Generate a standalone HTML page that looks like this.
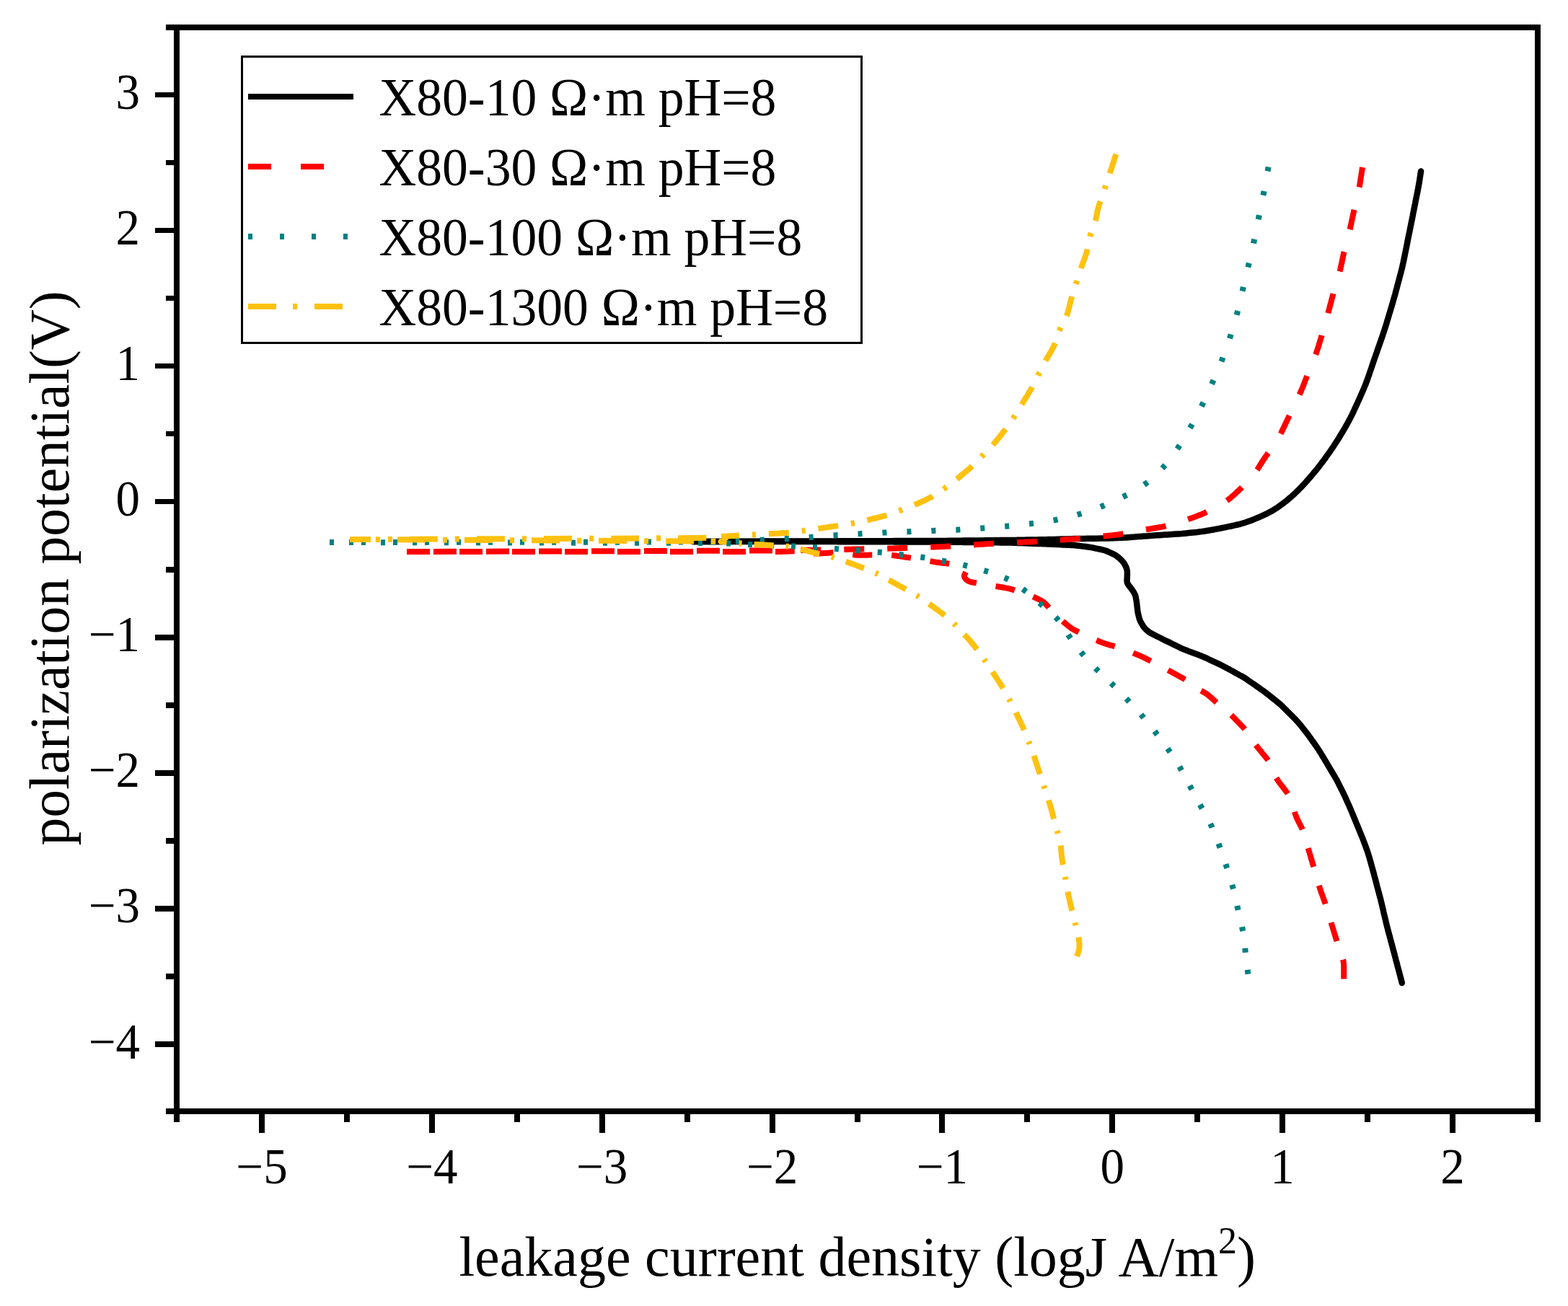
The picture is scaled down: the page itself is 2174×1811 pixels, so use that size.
<!DOCTYPE html>
<html><head><meta charset="utf-8"><title>polarization curves</title>
<style>html,body{margin:0;padding:0;background:#fff;}svg{display:block;}</style></head>
<body>
<svg width="2174" height="1811" viewBox="0 0 2174 1811" font-family="'Liberation Serif','Times New Roman',serif">
<rect x="0" y="0" width="2174" height="1811" fill="#fff"/>
<g id="curves">
<path d="M1943.8,1363.0 L1943.1,1360.1 L1942.3,1357.2 L1941.6,1354.3 L1940.8,1351.4 L1940.1,1348.5 L1939.3,1345.6 L1938.5,1342.7 L1937.7,1339.8 L1937.0,1336.9 L1936.2,1334.0 L1935.4,1331.1 L1934.7,1328.2 L1933.9,1325.3 L1933.2,1322.4 L1932.4,1319.5 L1931.6,1316.6 L1930.8,1313.7 L1930.1,1310.8 L1929.3,1307.9 L1928.5,1305.0 L1927.7,1302.1 L1927.0,1299.2 L1926.2,1296.3 L1925.4,1293.4 L1924.6,1290.5 L1923.9,1287.6 L1923.1,1284.7 L1922.4,1281.8 L1921.7,1278.9 L1921.0,1275.9 L1920.3,1273.0 L1919.6,1270.1 L1918.9,1267.2 L1918.2,1264.2 L1917.6,1261.3 L1916.9,1258.4 L1916.2,1255.5 L1915.5,1252.6 L1914.8,1249.6 L1914.1,1246.7 L1913.3,1243.8 L1912.5,1240.9 L1911.8,1238.0 L1911.0,1235.1 L1910.2,1232.2 L1909.4,1229.3 L1908.7,1226.4 L1907.9,1223.5 L1907.2,1220.6 L1906.4,1217.7 L1905.6,1214.8 L1904.9,1211.9 L1904.1,1209.0 L1903.3,1206.1 L1902.5,1203.2 L1901.7,1200.3 L1900.9,1197.4 L1900.1,1194.6 L1899.3,1191.7 L1898.5,1188.8 L1897.6,1185.9 L1896.7,1183.0 L1895.8,1180.2 L1894.8,1177.4 L1893.7,1174.6 L1892.7,1171.7 L1891.6,1168.9 L1890.6,1166.1 L1889.5,1163.3 L1888.4,1160.5 L1887.3,1157.8 L1886.1,1155.0 L1885.0,1152.2 L1883.9,1149.4 L1882.7,1146.7 L1881.6,1143.9 L1880.4,1141.1 L1879.3,1138.3 L1878.1,1135.6 L1877.0,1132.8 L1875.9,1130.0 L1874.7,1127.2 L1873.6,1124.5 L1872.4,1121.7 L1871.2,1119.0 L1870.0,1116.2 L1868.7,1113.5 L1867.5,1110.7 L1866.3,1108.0 L1865.1,1105.3 L1863.8,1102.5 L1862.5,1099.8 L1861.2,1097.1 L1859.8,1094.5 L1858.5,1091.8 L1857.1,1089.1 L1855.8,1086.4 L1854.4,1083.7 L1853.0,1081.1 L1851.5,1078.5 L1850.0,1075.9 L1848.5,1073.3 L1846.9,1070.8 L1845.4,1068.2 L1843.9,1065.6 L1842.4,1063.0 L1840.8,1060.4 L1839.3,1057.8 L1837.7,1055.3 L1836.2,1052.7 L1834.7,1050.1 L1833.1,1047.6 L1831.6,1045.0 L1830.0,1042.4 L1828.4,1039.9 L1826.7,1037.4 L1825.0,1034.9 L1823.3,1032.5 L1821.6,1030.0 L1819.8,1027.6 L1818.1,1025.1 L1816.4,1022.7 L1814.6,1020.3 L1812.8,1017.9 L1811.0,1015.5 L1809.1,1013.1 L1807.3,1010.7 L1805.4,1008.4 L1803.6,1006.0 L1801.6,1003.7 L1799.7,1001.5 L1797.7,999.2 L1795.6,997.1 L1793.5,994.9 L1791.4,992.8 L1789.3,990.7 L1787.1,988.5 L1785.0,986.4 L1782.9,984.3 L1780.8,982.2 L1778.6,980.1 L1776.5,978.0 L1774.2,976.0 L1771.9,974.1 L1769.6,972.2 L1767.3,970.3 L1764.9,968.5 L1762.6,966.6 L1760.2,964.7 L1757.9,962.8 L1755.5,961.0 L1753.1,959.2 L1750.7,957.4 L1748.2,955.7 L1745.8,954.0 L1743.3,952.3 L1740.9,950.5 L1738.4,948.8 L1736.0,947.1 L1733.5,945.4 L1731.0,943.7 L1728.6,942.0 L1726.1,940.3 L1723.5,938.8 L1720.9,937.3 L1718.2,935.9 L1715.6,934.4 L1713.0,933.0 L1710.4,931.5 L1707.7,930.1 L1705.1,928.6 L1702.5,927.2 L1699.8,925.8 L1697.2,924.4 L1694.5,923.0 L1691.8,921.7 L1689.1,920.4 L1686.4,919.1 L1683.7,917.9 L1680.9,916.6 L1678.2,915.3 L1675.5,914.0 L1672.8,912.7 L1670.1,911.5 L1667.3,910.3 L1664.5,909.2 L1661.7,908.1 L1658.9,907.1 L1656.1,906.0 L1653.3,905.0 L1650.5,903.9 L1647.7,902.9 L1644.9,901.8 L1642.1,900.7 L1639.3,899.6 L1636.6,898.3 L1633.9,897.0 L1631.2,895.7 L1628.5,894.4 L1625.8,893.1 L1623.1,891.7 L1620.4,890.4 L1617.7,889.1 L1615.0,887.8 L1612.3,886.5 L1609.6,885.1 L1607.0,883.8 L1604.3,882.4 L1601.6,881.1 L1598.9,879.7 L1596.3,878.4 L1593.7,876.8 L1591.3,875.0 L1589.1,873.1 L1587.0,870.9 L1585.2,868.6 L1583.6,866.0 L1582.1,863.4 L1580.8,860.8 L1579.8,858.0 L1579.0,855.1 L1578.3,852.2 L1577.6,849.3 L1577.2,846.3 L1576.8,843.3 L1576.5,840.3 L1576.2,837.4 L1575.8,834.4 L1575.3,831.4 L1574.8,828.5 L1574.1,825.6 L1572.9,823.0 L1571.4,820.4 L1569.7,817.9 L1567.9,815.5 L1566.1,813.1 L1564.3,810.8 L1563.0,808.3 L1562.5,805.5 L1562.6,802.6 L1562.8,799.6 L1562.9,796.7 L1562.9,793.7 L1562.6,790.7 L1561.9,787.9 L1560.7,785.2 L1559.3,782.6 L1557.7,780.0 L1555.8,777.8 L1553.7,775.7 L1551.5,773.7 L1549.2,771.7 L1546.8,770.0 L1544.2,768.6 L1541.5,767.3 L1538.8,766.1 L1536.0,764.8 L1533.3,763.7 L1530.4,762.8 L1527.5,762.1 L1524.6,761.5 L1521.6,760.9 L1518.7,760.3 L1515.8,759.7 L1512.8,759.1 L1509.9,758.6 L1506.9,758.2 L1503.9,757.8 L1500.9,757.5 L1498.0,757.1 L1495.0,756.7 L1492.0,756.4 L1489.0,756.1 L1486.0,756.0 L1483.0,755.8 L1480.0,755.7 L1477.0,755.5 L1474.0,755.4 L1471.0,755.2 L1468.0,755.1 L1465.0,754.9 L1462.0,754.8 L1459.0,754.7 L1456.0,754.6 L1453.0,754.4 L1450.1,754.3 L1447.1,754.2 L1444.1,754.1 L1441.1,754.0 L1438.1,753.9 L1435.1,753.8 L1432.1,753.7 L1429.1,753.6 L1426.1,753.5 L1423.1,753.3 L1420.1,753.2 L1417.1,753.1 L1414.1,753.0 L1411.1,752.9 L1408.1,752.8 L1405.1,752.7 L1402.1,752.6 L1399.1,752.5 L1396.1,752.5 L1393.1,752.4 L1390.1,752.4 L1387.1,752.4 L1384.1,752.3 L1381.1,752.3 L1378.1,752.3 L1375.1,752.3 L1372.1,752.2 L1369.1,752.2 L1366.1,752.2 L1363.1,752.1 L1360.1,752.1 L1357.1,752.1 L1354.1,752.0 L1351.1,752.0 L1348.1,752.0 L1345.1,752.0 L1342.1,751.9 L1339.1,751.9 L1336.1,751.9 L1333.1,751.8 L1330.1,751.8 L1327.1,751.8 L1324.1,751.7 L1321.1,751.7 L1318.1,751.7 L1315.1,751.7 L1312.1,751.6 L1309.1,751.6 L1306.1,751.6 L1303.1,751.5 L1300.1,751.5 L1297.1,751.5 L1294.1,751.5 L1291.1,751.5 L1288.1,751.5 L1285.1,751.5 L1282.1,751.5 L1279.1,751.4 L1276.1,751.4 L1273.1,751.4 L1270.1,751.4 L1267.1,751.4 L1264.1,751.4 L1261.1,751.4 L1258.1,751.4 L1255.1,751.4 L1252.1,751.4 L1249.1,751.4 L1246.1,751.4 L1243.1,751.4 L1240.1,751.4 L1237.1,751.3 L1234.1,751.3 L1231.0,751.3 L1228.0,751.3 L1225.0,751.3 L1222.0,751.3 L1219.0,751.3 L1216.0,751.3 L1213.0,751.3 L1210.0,751.3 L1207.0,751.3 L1204.0,751.3 L1201.0,751.3 L1198.0,751.2 L1195.0,751.2 L1192.0,751.2 L1189.0,751.2 L1186.0,751.2 L1183.0,751.2 L1180.0,751.2 L1177.0,751.2 L1174.0,751.2 L1171.0,751.2 L1168.0,751.2 L1165.0,751.2 L1162.0,751.2 L1159.0,751.1 L1156.0,751.1 L1153.0,751.1 L1150.0,751.1 L1147.0,751.1 L1144.0,751.1 L1141.0,751.1 L1138.0,751.1 L1135.0,751.1 L1132.0,751.1 L1129.0,751.1 L1126.0,751.1 L1123.0,751.1 L1120.0,751.1 L1117.0,751.0 L1114.0,751.0 L1111.0,751.0 L1108.0,751.0 L1105.0,751.0 L1102.0,751.0 L1099.0,751.0 L1096.0,751.0 L1093.0,751.0 L1090.0,751.0 L1087.0,751.0 L1084.0,751.0 L1081.0,751.0 L1078.0,751.0 L1075.0,751.0 L1072.0,751.0 L1069.0,751.0 L1066.0,751.0 L1063.0,751.0 L1060.0,751.0 L1057.0,751.0 L1054.0,751.0 L1051.0,751.0 L1048.0,751.0 L1045.0,751.0 L1042.0,751.0 L1039.0,751.0 L1036.0,751.0 L1033.0,751.0 L1030.0,751.0 L1027.0,751.0 L1024.0,751.0 L1021.0,751.0 L1018.0,751.0 L1015.0,751.0 L1012.0,751.0 L1009.0,751.0 L1006.0,751.0 L1003.0,751.0 L1000.0,751.0 L997.0,751.0 L994.0,751.0 L991.0,751.0 L988.0,751.0 L985.0,751.0 L982.0,751.0 L979.0,751.0 L976.0,751.0 L973.0,751.0 L970.0,751.0 L967.0,751.0 L964.0,751.0 L961.0,751.0" fill="none" stroke="#000" stroke-width="8.5" stroke-linecap="round" stroke-linejoin="round"/>
<path d="M961.0,751.0 L964.0,751.0 L967.0,751.0 L970.0,751.0 L973.0,751.0 L976.0,750.9 L979.0,750.9 L982.0,750.9 L985.0,750.9 L988.0,750.9 L991.0,750.9 L994.0,750.9 L997.0,750.9 L1000.0,750.9 L1003.0,750.8 L1006.0,750.8 L1009.0,750.8 L1012.0,750.8 L1015.0,750.8 L1018.0,750.8 L1021.0,750.8 L1024.0,750.8 L1027.0,750.8 L1030.0,750.8 L1033.0,750.7 L1036.0,750.7 L1039.0,750.7 L1042.0,750.7 L1045.0,750.7 L1048.0,750.7 L1051.0,750.7 L1054.0,750.7 L1057.0,750.7 L1060.0,750.6 L1063.0,750.6 L1066.0,750.6 L1069.0,750.6 L1072.0,750.6 L1075.0,750.6 L1078.0,750.6 L1081.0,750.6 L1084.0,750.6 L1087.0,750.5 L1090.0,750.5 L1093.0,750.5 L1096.0,750.5 L1099.0,750.5 L1102.0,750.5 L1105.0,750.5 L1108.1,750.5 L1111.1,750.5 L1114.1,750.5 L1117.1,750.5 L1120.1,750.4 L1123.1,750.4 L1126.1,750.4 L1129.1,750.4 L1132.1,750.4 L1135.1,750.4 L1138.1,750.4 L1141.1,750.4 L1144.1,750.4 L1147.1,750.4 L1150.1,750.4 L1153.1,750.4 L1156.1,750.4 L1159.1,750.4 L1162.1,750.3 L1165.1,750.3 L1168.1,750.3 L1171.1,750.3 L1174.1,750.3 L1177.1,750.3 L1180.1,750.3 L1183.1,750.3 L1186.1,750.3 L1189.1,750.3 L1192.1,750.3 L1195.1,750.3 L1198.1,750.3 L1201.1,750.2 L1204.1,750.2 L1207.1,750.2 L1210.1,750.2 L1213.1,750.2 L1216.1,750.2 L1219.1,750.2 L1222.1,750.2 L1225.1,750.2 L1228.1,750.2 L1231.1,750.2 L1234.1,750.2 L1237.1,750.2 L1240.1,750.1 L1243.1,750.1 L1246.1,750.1 L1249.1,750.1 L1252.1,750.1 L1255.1,750.1 L1258.1,750.1 L1261.1,750.1 L1264.1,750.1 L1267.1,750.1 L1270.1,750.1 L1273.1,750.1 L1276.1,750.1 L1279.1,750.1 L1282.1,750.0 L1285.1,750.0 L1288.1,750.0 L1291.1,750.0 L1294.1,750.0 L1297.1,750.0 L1300.1,750.0 L1303.1,750.0 L1306.1,749.9 L1309.1,749.9 L1312.1,749.9 L1315.1,749.8 L1318.1,749.8 L1321.1,749.8 L1324.1,749.8 L1327.1,749.7 L1330.1,749.7 L1333.1,749.7 L1336.1,749.6 L1339.1,749.6 L1342.1,749.6 L1345.1,749.5 L1348.1,749.5 L1351.1,749.5 L1354.1,749.5 L1357.1,749.4 L1360.1,749.4 L1363.1,749.4 L1366.1,749.3 L1369.1,749.3 L1372.1,749.3 L1375.1,749.2 L1378.1,749.2 L1381.1,749.2 L1384.1,749.2 L1387.1,749.1 L1390.1,749.1 L1393.1,749.1 L1396.1,749.0 L1399.1,749.0 L1402.1,748.9 L1405.1,748.9 L1408.1,748.9 L1411.1,748.8 L1414.1,748.8 L1417.1,748.7 L1420.2,748.7 L1423.2,748.6 L1426.2,748.6 L1429.2,748.5 L1432.2,748.5 L1435.2,748.4 L1438.2,748.4 L1441.2,748.3 L1444.2,748.3 L1447.2,748.2 L1450.2,748.2 L1453.2,748.1 L1456.2,748.0 L1459.2,748.0 L1462.2,747.9 L1465.2,747.8 L1468.2,747.7 L1471.2,747.6 L1474.2,747.5 L1477.2,747.4 L1480.2,747.4 L1483.2,747.3 L1486.2,747.2 L1489.2,747.1 L1492.2,747.0 L1495.2,747.0 L1498.2,746.9 L1501.2,746.9 L1504.2,746.9 L1507.2,746.8 L1510.2,746.8 L1513.2,746.8 L1516.2,746.7 L1519.2,746.7 L1522.2,746.7 L1525.2,746.6 L1528.2,746.6 L1531.2,746.5 L1534.2,746.5 L1537.2,746.4 L1540.2,746.3 L1543.2,746.2 L1546.2,746.1 L1549.2,746.0 L1552.2,745.8 L1555.2,745.7 L1558.2,745.6 L1561.1,745.4 L1564.1,745.2 L1567.1,745.0 L1570.1,744.8 L1573.1,744.6 L1576.1,744.3 L1579.1,744.1 L1582.1,743.9 L1585.1,743.6 L1588.1,743.4 L1591.1,743.2 L1594.1,742.9 L1597.1,742.7 L1600.1,742.5 L1603.0,742.3 L1606.0,742.2 L1609.0,742.0 L1612.0,741.8 L1615.0,741.6 L1618.0,741.4 L1621.0,741.2 L1624.0,741.0 L1627.0,740.8 L1630.0,740.6 L1633.0,740.4 L1636.0,740.2 L1639.0,740.0 L1642.0,739.7 L1645.0,739.4 L1647.9,739.1 L1650.9,738.8 L1653.9,738.5 L1656.9,738.2 L1659.9,737.9 L1662.9,737.5 L1665.8,737.1 L1668.8,736.7 L1671.8,736.3 L1674.7,735.8 L1677.7,735.3 L1680.6,734.7 L1683.6,734.2 L1686.5,733.6 L1689.5,733.1 L1692.4,732.5 L1695.4,731.9 L1698.3,731.3 L1701.3,730.7 L1704.2,730.1 L1707.1,729.5 L1710.0,728.8 L1713.0,728.2 L1715.9,727.5 L1718.8,726.8 L1721.7,726.0 L1724.6,725.2 L1727.4,724.3 L1730.2,723.3 L1733.1,722.3 L1735.9,721.2 L1738.6,720.1 L1741.4,718.9 L1744.2,717.8 L1746.9,716.6 L1749.7,715.4 L1752.4,714.2 L1755.1,712.9 L1757.8,711.5 L1760.5,710.1 L1763.1,708.7 L1765.7,707.2 L1768.2,705.6 L1770.7,704.0 L1773.2,702.3 L1775.6,700.5 L1778.0,698.8 L1780.4,696.9 L1782.8,695.1 L1785.1,693.2 L1787.4,691.3 L1789.7,689.4 L1791.9,687.4 L1794.1,685.4 L1796.3,683.3 L1798.4,681.2 L1800.6,679.1 L1802.7,676.9 L1804.8,674.8 L1806.8,672.6 L1808.9,670.4 L1810.9,668.2 L1812.9,665.9 L1814.8,663.7 L1816.8,661.4 L1818.8,659.1 L1820.7,656.8 L1822.6,654.5 L1824.5,652.2 L1826.4,649.9 L1828.3,647.5 L1830.1,645.2 L1831.9,642.8 L1833.7,640.4 L1835.5,638.0 L1837.3,635.6 L1839.0,633.1 L1840.8,630.7 L1842.5,628.2 L1844.3,625.8 L1845.9,623.3 L1847.6,620.8 L1849.3,618.3 L1850.9,615.8 L1852.5,613.3 L1854.2,610.8 L1855.8,608.2 L1857.3,605.7 L1858.9,603.1 L1860.5,600.5 L1862.0,598.0 L1863.5,595.4 L1865.0,592.8 L1866.5,590.2 L1868.0,587.5 L1869.4,584.9 L1870.8,582.3 L1872.2,579.6 L1873.6,576.9 L1874.9,574.3 L1876.2,571.6 L1877.5,568.8 L1878.7,566.1 L1880.0,563.4 L1881.3,560.7 L1882.5,557.9 L1883.7,555.2 L1885.0,552.5 L1886.2,549.7 L1887.4,547.0 L1888.6,544.2 L1889.8,541.5 L1891.0,538.7 L1892.1,536.0 L1893.3,533.2 L1894.3,530.4 L1895.4,527.6 L1896.4,524.8 L1897.4,521.9 L1898.4,519.1 L1899.3,516.2 L1900.3,513.4 L1901.3,510.6 L1902.2,507.7 L1903.2,504.9 L1904.1,502.0 L1905.1,499.2 L1906.1,496.4 L1907.1,493.5 L1908.1,490.7 L1909.1,487.9 L1910.0,485.0 L1911.0,482.2 L1912.0,479.4 L1913.0,476.5 L1914.0,473.7 L1915.0,470.9 L1916.0,468.0 L1917.0,465.2 L1917.9,462.3 L1918.9,459.5 L1919.8,456.6 L1920.7,453.8 L1921.6,450.9 L1922.5,448.0 L1923.3,445.2 L1924.2,442.3 L1925.1,439.4 L1925.9,436.6 L1926.8,433.7 L1927.7,430.8 L1928.5,427.9 L1929.4,425.1 L1930.2,422.2 L1931.1,419.3 L1931.9,416.4 L1932.7,413.5 L1933.6,410.6 L1934.4,407.8 L1935.1,404.9 L1935.9,402.0 L1936.7,399.1 L1937.4,396.2 L1938.2,393.3 L1939.0,390.4 L1939.8,387.5 L1940.5,384.6 L1941.3,381.7 L1942.1,378.8 L1942.8,375.8 L1943.6,372.9 L1944.3,370.0 L1944.9,367.1 L1945.6,364.2 L1946.2,361.2 L1946.8,358.3 L1947.4,355.4 L1948.0,352.4 L1948.6,349.5 L1949.2,346.5 L1949.8,343.6 L1950.4,340.6 L1951.0,337.7 L1951.5,334.8 L1952.1,331.8 L1952.7,328.9 L1953.3,325.9 L1953.9,323.0 L1954.5,320.1 L1955.1,317.1 L1955.7,314.2 L1956.3,311.2 L1956.9,308.3 L1957.5,305.3 L1958.1,302.4 L1958.7,299.5 L1959.2,296.5 L1959.8,293.6 L1960.4,290.6 L1961.0,287.7 L1961.6,284.7 L1962.2,281.8 L1962.7,278.9 L1963.3,275.9 L1963.9,273.0 L1964.5,270.0 L1965.1,267.1 L1965.7,264.1 L1966.2,261.2 L1966.8,258.2 L1967.3,255.3 L1967.8,252.3 L1968.3,249.4 L1968.7,246.4 L1969.2,243.4 L1969.6,240.5 L1970.1,237.5" fill="none" stroke="#000" stroke-width="8.5" stroke-linecap="round" stroke-linejoin="round"/>
<path d="M1863.2,1357.6 L1863.2,1354.6 L1863.2,1351.6 L1863.2,1348.6 L1863.2,1345.6 L1863.2,1342.6 L1863.2,1339.6 L1863.0,1336.6 L1862.7,1333.6 L1862.1,1330.7 L1861.2,1327.9 L1860.2,1325.0 L1859.3,1322.2 L1858.3,1319.3 L1857.3,1316.5 L1856.3,1313.6 L1855.4,1310.8 L1854.4,1307.9 L1853.5,1305.1 L1852.6,1302.2 L1851.7,1299.3 L1850.8,1296.4 L1849.9,1293.6 L1849.1,1290.7 L1848.2,1287.8 L1847.3,1284.9 L1846.4,1282.1 L1845.6,1279.2 L1844.7,1276.3 L1843.8,1273.4 L1843.0,1270.5 L1842.1,1267.7 L1841.2,1264.8 L1840.4,1261.9 L1839.5,1259.0 L1838.6,1256.2 L1837.6,1253.3 L1836.6,1250.5 L1835.6,1247.6 L1834.6,1244.8 L1833.6,1242.0 L1832.5,1239.1 L1831.5,1236.3 L1830.5,1233.5 L1829.6,1230.6 L1828.7,1227.8 L1827.8,1224.9 L1827.0,1222.0 L1826.2,1219.1 L1825.4,1216.2 L1824.5,1213.3 L1823.7,1210.4 L1822.9,1207.5 L1822.1,1204.6 L1821.2,1201.7 L1820.4,1198.8 L1819.5,1196.0 L1818.7,1193.1 L1817.8,1190.2 L1817.0,1187.3 L1816.1,1184.4 L1815.3,1181.5 L1814.4,1178.7 L1813.6,1175.8 L1812.8,1172.9 L1812.0,1170.0 L1811.2,1167.1 L1810.4,1164.2 L1809.6,1161.3 L1808.8,1158.4 L1807.9,1155.5 L1806.8,1152.7 L1805.7,1150.0 L1804.4,1147.2 L1803.0,1144.5 L1801.7,1141.9 L1800.3,1139.2 L1799.0,1136.5 L1797.7,1133.7 L1796.6,1131.0 L1795.6,1128.2 L1794.6,1125.3 L1793.7,1122.4 L1792.8,1119.6 L1792.0,1116.7 L1791.1,1113.8 L1790.2,1110.9 L1789.2,1108.1 L1788.1,1105.3 L1786.8,1102.7 L1785.2,1100.2 L1783.4,1097.8 L1781.6,1095.4 L1779.8,1093.0 L1778.0,1090.6 L1776.1,1088.2 L1774.3,1085.8 L1772.5,1083.4 L1770.9,1080.9 L1769.4,1078.4 L1768.1,1075.7 L1766.9,1072.9 L1765.8,1070.1 L1764.7,1067.3 L1763.6,1064.5 L1762.5,1061.7 L1761.2,1059.0 L1759.7,1056.5 L1758.0,1054.0 L1756.2,1051.6 L1754.3,1049.3 L1752.4,1047.0 L1750.5,1044.7 L1748.6,1042.3 L1746.7,1040.0 L1744.8,1037.7 L1742.9,1035.3 L1741.1,1032.9 L1739.4,1030.5 L1737.7,1028.0 L1736.0,1025.5 L1734.4,1023.0 L1732.7,1020.5 L1731.0,1018.0 L1729.3,1015.5 L1727.5,1013.1 L1725.6,1010.8 L1723.6,1008.5 L1721.5,1006.4 L1719.5,1004.2 L1717.4,1002.0 L1715.3,999.9 L1713.2,997.7 L1711.1,995.6 L1709.0,993.4 L1706.8,991.3 L1704.6,989.3 L1702.3,987.4 L1700.0,985.5 L1697.6,983.6 L1695.3,981.7 L1693.0,979.7 L1690.7,977.8 L1688.5,975.8 L1686.2,973.8 L1684.0,971.8 L1681.8,969.7 L1679.6,967.7 L1677.3,965.7 L1675.0,963.8 L1672.7,962.0 L1670.1,960.5 L1667.6,959.0 L1665.0,957.5 L1662.5,955.8 L1660.1,954.1 L1657.7,952.3 L1655.2,950.6 L1652.8,948.8 L1650.4,947.0 L1647.9,945.3 L1645.4,943.6 L1642.8,942.1 L1640.2,940.6 L1637.6,939.2 L1634.9,937.7 L1632.3,936.3 L1629.7,934.8 L1627.0,933.4 L1624.4,931.9 L1621.7,930.5 L1619.1,929.1 L1616.5,927.6 L1613.8,926.2 L1611.2,924.7 L1608.5,923.3 L1605.9,921.9 L1603.2,920.5 L1600.5,919.1 L1597.9,917.8 L1595.2,916.4 L1592.5,915.1 L1589.8,913.7 L1587.1,912.4 L1584.4,911.1 L1581.7,909.8 L1578.9,908.6 L1576.1,907.5 L1573.3,906.4 L1570.5,905.2 L1567.7,904.1 L1565.0,903.0 L1562.2,901.9 L1559.4,900.8 L1556.5,899.7 L1553.7,898.8 L1550.8,897.9 L1547.9,897.0 L1545.1,896.2 L1542.2,895.4 L1539.3,894.6 L1536.4,893.8 L1533.5,892.9 L1530.6,892.0 L1527.8,890.9 L1525.0,889.8 L1522.3,888.6 L1519.5,887.4 L1516.8,886.2 L1514.0,885.0 L1511.2,883.8 L1508.5,882.6 L1505.8,881.4 L1503.0,880.1 L1500.3,878.8 L1497.6,877.5 L1494.9,876.2 L1492.2,874.9 L1489.5,873.6 L1486.9,872.1 L1484.4,870.4 L1482.0,868.6 L1479.7,866.7 L1477.4,864.8 L1475.1,862.9 L1472.8,861.0 L1470.4,859.0 L1468.1,857.1 L1465.9,855.2 L1463.6,853.1 L1461.5,851.0 L1459.5,848.8 L1457.5,846.5 L1455.6,844.2 L1453.7,841.9 L1451.7,839.6 L1449.7,837.4 L1447.5,835.5 L1445.1,833.8 L1442.5,832.3 L1439.9,830.9 L1437.2,829.6 L1434.5,828.3 L1431.7,827.0 L1429.0,825.9 L1426.2,824.8 L1423.3,823.9 L1420.5,822.9 L1417.6,822.0 L1414.7,821.1 L1411.9,820.2 L1409.0,819.2 L1406.1,818.3 L1403.3,817.4 L1400.4,816.6 L1397.5,815.9 L1394.5,815.3 L1391.6,814.7 L1388.6,814.2 L1385.6,813.7 L1382.7,813.2 L1379.7,812.7 L1376.8,812.2 L1373.8,811.7 L1370.8,811.2 L1367.9,810.7 L1364.9,810.2 L1361.9,809.7 L1358.9,809.3 L1356.0,808.8 L1353.0,808.3 L1350.0,807.8 L1347.1,807.3 L1344.3,806.5 L1341.8,805.3 L1339.5,803.6 L1337.8,801.5 L1336.9,799.4 L1337.1,797.3 L1338.2,795.2 L1339.2,793.2 L1339.2,791.5 L1337.8,790.0 L1335.5,788.7 L1332.8,787.5 L1330.1,786.3 L1327.3,785.2 L1324.6,784.0 L1321.7,783.0 L1318.9,782.2 L1315.9,781.7 L1313.0,781.3 L1310.0,781.0 L1307.0,780.7 L1304.0,780.4 L1301.0,780.0 L1298.0,779.6 L1295.1,779.1 L1292.1,778.6 L1289.1,778.1 L1286.2,777.6 L1283.2,777.1 L1280.2,776.6 L1277.3,776.1 L1274.3,775.6 L1271.3,775.1 L1268.4,774.6 L1265.4,774.1 L1262.4,773.6 L1259.5,773.1 L1256.5,772.7 L1253.5,772.3 L1250.5,771.8 L1247.6,771.4 L1244.6,771.0 L1241.6,770.5 L1238.6,770.1 L1235.7,769.7 L1232.7,769.4 L1229.7,769.2 L1226.7,769.2 L1223.7,769.2 L1220.7,769.2 L1217.7,769.3 L1214.7,769.4 L1211.7,769.5 L1208.6,769.5 L1205.6,769.6 L1202.6,769.7 L1199.6,769.7 L1196.6,769.8 L1193.6,769.8 L1190.6,769.8 L1187.6,769.7 L1184.6,769.4 L1181.6,769.0 L1178.7,768.7 L1175.7,768.3 L1172.7,767.9 L1169.7,767.5 L1166.7,767.1 L1163.7,766.8 L1160.8,766.5 L1157.8,766.3 L1154.8,766.3 L1151.8,766.5 L1148.8,766.7 L1145.8,766.9 L1142.8,767.1 L1139.8,767.3 L1136.8,767.5 L1133.8,767.6 L1130.8,767.6 L1127.8,767.4 L1124.8,767.1 L1121.9,766.6 L1118.9,766.1 L1115.9,765.6 L1113.0,765.1 L1110.0,764.6 L1107.0,764.3 L1104.0,764.2 L1101.0,764.2 L1098.0,764.3 L1095.0,764.4 L1092.0,764.6 L1089.0,764.7 L1086.0,764.8 L1083.0,764.9 L1080.0,765.0" fill="none" stroke="#FF0000" stroke-width="8" stroke-linecap="butt" stroke-linejoin="round" stroke-dasharray="27 27"/>
<path d="M564.0,765.0 L1080.0,765.0" fill="none" stroke="#FF0000" stroke-width="8" stroke-linecap="butt" stroke-linejoin="round" stroke-dasharray="32 41"/>
<path d="M564.0,765.0 L1080.0,763.5" fill="none" stroke="#FF0000" stroke-width="8" stroke-linecap="butt" stroke-linejoin="round" stroke-dasharray="32 41" stroke-dashoffset="36"/>
<path d="M1889.0,232.0 L1888.5,235.0 L1888.1,237.9 L1887.6,240.9 L1887.2,243.9 L1886.7,246.8 L1886.2,249.8 L1885.8,252.8 L1885.3,255.7 L1884.8,258.7 L1884.2,261.7 L1883.6,264.6 L1883.0,267.5 L1882.3,270.5 L1881.6,273.4 L1881.0,276.3 L1880.3,279.2 L1879.6,282.2 L1878.9,285.1 L1878.2,288.0 L1877.5,290.9 L1876.9,293.9 L1876.2,296.8 L1875.6,299.7 L1874.9,302.7 L1874.3,305.6 L1873.7,308.5 L1873.1,311.5 L1872.4,314.4 L1871.8,317.4 L1871.1,320.3 L1870.4,323.2 L1869.7,326.1 L1868.9,329.0 L1868.2,331.9 L1867.4,334.8 L1866.6,337.7 L1865.8,340.6 L1865.0,343.5 L1864.3,346.4 L1863.5,349.3 L1862.8,352.3 L1862.2,355.2 L1861.6,358.1 L1861.0,361.1 L1860.4,364.0 L1859.7,367.0 L1859.1,369.9 L1858.5,372.8 L1857.8,375.7 L1857.0,378.6 L1856.2,381.5 L1855.4,384.4 L1854.5,387.3 L1853.6,390.2 L1852.8,393.1 L1851.9,395.9 L1851.0,398.8 L1850.2,401.7 L1849.3,404.6 L1848.5,407.5 L1847.7,410.3 L1846.9,413.2 L1846.1,416.1 L1845.4,419.0 L1844.6,422.0 L1843.8,424.9 L1843.1,427.8 L1842.3,430.7 L1841.5,433.6 L1840.7,436.5 L1839.9,439.4 L1839.1,442.2 L1838.3,445.1 L1837.5,448.0 L1836.6,450.9 L1835.8,453.8 L1835.0,456.7 L1834.2,459.6 L1833.3,462.5 L1832.5,465.4 L1831.7,468.2 L1830.8,471.1 L1829.9,474.0 L1829.0,476.9 L1828.2,479.7 L1827.3,482.6 L1826.3,485.5 L1825.4,488.3 L1824.4,491.1 L1823.3,493.9 L1822.2,496.7 L1821.1,499.5 L1819.9,502.3 L1818.8,505.1 L1817.6,507.8 L1816.5,510.6 L1815.3,513.4 L1814.2,516.2 L1813.1,519.0 L1812.0,521.8 L1810.9,524.6 L1809.8,527.4 L1808.7,530.2 L1807.7,533.0 L1806.6,535.8 L1805.4,538.5 L1804.3,541.3 L1803.1,544.1 L1801.8,546.8 L1800.5,549.5 L1799.2,552.2 L1797.9,554.9 L1796.6,557.6 L1795.3,560.3 L1794.0,563.0 L1792.7,565.8 L1791.4,568.5 L1790.1,571.2 L1788.8,573.9 L1787.5,576.6 L1786.3,579.3 L1785.0,582.0 L1783.7,584.7 L1782.4,587.5 L1781.1,590.2 L1779.8,592.9 L1778.5,595.6 L1777.2,598.3 L1776.0,601.0 L1774.6,603.7 L1773.3,606.4 L1771.8,609.0 L1770.3,611.6 L1768.7,614.1 L1767.0,616.6 L1765.2,619.0 L1763.4,621.4 L1761.6,623.8 L1759.8,626.2 L1758.0,628.6 L1756.3,631.0 L1754.5,633.5 L1752.8,636.0 L1751.2,638.5 L1749.6,641.0 L1748.0,643.5 L1746.4,646.1 L1744.8,648.6 L1743.2,651.2 L1741.5,653.6 L1739.7,656.0 L1737.9,658.4 L1735.9,660.7 L1733.9,662.9 L1731.9,665.1 L1729.9,667.3 L1727.8,669.5 L1725.8,671.7 L1723.7,673.9 L1721.6,676.1 L1719.5,678.2 L1717.3,680.3 L1715.1,682.3 L1712.9,684.3 L1710.7,686.4 L1708.5,688.3 L1706.2,690.3 L1703.8,692.2 L1701.4,693.9 L1699.0,695.6 L1696.4,697.2 L1693.8,698.7 L1691.2,700.1 L1688.6,701.6 L1686.0,703.1 L1683.3,704.5 L1680.7,706.0 L1678.1,707.4 L1675.4,708.8 L1672.7,710.1 L1670.0,711.4 L1667.2,712.6 L1664.5,713.7 L1661.7,714.8 L1658.9,715.9 L1656.1,717.0 L1653.2,718.0 L1650.4,719.0 L1647.6,719.9 L1644.7,720.9 L1641.9,721.9 L1639.0,722.8 L1636.2,723.7 L1633.3,724.6 L1630.4,725.5 L1627.5,726.4 L1624.7,727.2 L1621.8,728.0 L1618.9,728.8 L1615.9,729.5 L1613.0,730.2 L1610.1,730.8 L1607.1,731.3 L1604.2,731.8 L1601.2,732.3 L1598.2,732.8 L1595.3,733.3 L1592.3,733.7 L1589.4,734.2 L1586.4,734.7 L1583.4,735.2 L1580.5,735.7 L1577.5,736.3 L1574.6,736.8 L1571.6,737.4 L1568.7,738.0 L1565.7,738.6 L1562.8,739.1 L1559.8,739.7 L1556.9,740.2 L1553.9,740.7 L1550.9,741.2 L1548.0,741.6 L1545.0,741.9 L1542.0,742.2 L1539.0,742.6 L1536.0,742.9 L1533.0,743.2 L1530.0,743.5 L1527.1,743.8 L1524.1,744.1 L1521.1,744.5 L1518.1,744.8 L1515.1,745.1 L1512.1,745.4 L1509.1,745.7 L1506.1,746.0 L1503.1,746.3 L1500.2,746.5 L1497.2,746.7 L1494.2,746.9 L1491.2,747.2 L1488.2,747.4 L1485.2,747.6 L1482.2,747.8 L1479.2,748.1 L1476.2,748.3 L1473.2,748.5 L1470.2,748.7 L1467.2,748.9 L1464.2,749.2 L1461.2,749.4 L1458.2,749.6 L1455.2,749.8 L1452.2,750.0 L1449.2,750.2 L1446.2,750.4 L1443.2,750.6 L1440.2,750.8 L1437.2,750.9 L1434.2,751.1 L1431.2,751.2 L1428.2,751.4 L1425.2,751.5 L1422.2,751.6 L1419.2,751.8 L1416.2,751.9 L1413.2,752.1 L1410.2,752.2 L1407.2,752.4 L1404.2,752.5 L1401.2,752.6 L1398.2,752.8 L1395.2,752.9 L1392.2,753.1 L1389.2,753.2 L1386.2,753.4 L1383.2,753.5 L1380.2,753.7 L1377.2,753.8 L1374.2,754.0 L1371.2,754.1 L1368.2,754.3 L1365.2,754.5 L1362.2,754.7 L1359.2,754.8 L1356.2,755.0 L1353.2,755.2 L1350.2,755.4 L1347.2,755.6 L1344.2,755.8 L1341.2,756.0 L1338.2,756.1 L1335.2,756.3 L1332.2,756.5 L1329.2,756.7 L1326.2,756.9 L1323.2,757.1 L1320.2,757.2 L1317.2,757.4 L1314.2,757.6 L1311.2,757.8 L1308.2,757.9 L1305.2,758.1 L1302.2,758.2 L1299.2,758.3 L1296.2,758.4 L1293.2,758.5 L1290.2,758.6 L1287.2,758.7 L1284.2,758.8 L1281.2,759.0 L1278.2,759.1 L1275.2,759.2 L1272.2,759.3 L1269.2,759.4 L1266.2,759.5 L1263.2,759.6 L1260.2,759.7 L1257.2,759.8 L1254.2,759.9 L1251.2,760.0 L1248.2,760.1 L1245.2,760.2 L1242.2,760.3 L1239.2,760.4 L1236.2,760.5 L1233.2,760.6 L1230.2,760.7 L1227.2,760.7 L1224.2,760.8 L1221.2,760.8 L1218.2,760.9 L1215.2,761.0 L1212.2,761.0 L1209.2,761.1 L1206.2,761.2 L1203.1,761.2 L1200.1,761.3 L1197.1,761.3 L1194.1,761.4 L1191.1,761.5 L1188.1,761.5 L1185.1,761.6 L1182.1,761.6 L1179.1,761.7 L1176.1,761.8 L1173.1,761.8 L1170.1,761.9 L1167.1,762.0 L1164.1,762.0 L1161.1,762.1 L1158.1,762.1 L1155.1,762.2 L1152.1,762.2 L1149.1,762.3 L1146.1,762.3 L1143.1,762.4 L1140.1,762.4 L1137.1,762.5 L1134.1,762.5 L1131.1,762.6 L1128.1,762.7 L1125.1,762.7 L1122.1,762.8 L1119.0,762.8 L1116.0,762.9 L1113.0,762.9 L1110.0,763.0 L1107.0,763.0 L1104.0,763.1 L1101.0,763.1 L1098.0,763.2 L1095.0,763.2 L1092.0,763.3 L1089.0,763.3 L1086.0,763.4 L1083.0,763.4 L1080.0,763.5" fill="none" stroke="#FF0000" stroke-width="8" stroke-linecap="butt" stroke-linejoin="round" stroke-dasharray="28 32"/>
<path d="M1730.4,1350.7 L1730.0,1347.7 L1729.7,1344.7 L1729.3,1341.8 L1728.9,1338.8 L1728.5,1335.8 L1728.2,1332.8 L1727.8,1329.8 L1727.4,1326.8 L1727.1,1323.9 L1726.8,1320.9 L1726.5,1317.9 L1726.2,1314.9 L1726.0,1311.9 L1725.7,1308.9 L1725.5,1305.9 L1725.2,1302.9 L1724.8,1300.0 L1724.4,1297.0 L1723.9,1294.0 L1723.3,1291.1 L1722.6,1288.2 L1722.0,1285.2 L1721.3,1282.3 L1720.6,1279.4 L1719.9,1276.5 L1719.2,1273.5 L1718.5,1270.6 L1717.8,1267.7 L1717.2,1264.8 L1716.6,1261.8 L1715.9,1258.9 L1715.3,1255.9 L1714.7,1253.0 L1714.1,1250.1 L1713.5,1247.1 L1712.9,1244.2 L1712.2,1241.3 L1711.5,1238.3 L1710.8,1235.4 L1710.0,1232.5 L1709.1,1229.6 L1708.3,1226.8 L1707.4,1223.9 L1706.6,1221.0 L1705.7,1218.1 L1704.8,1215.3 L1703.9,1212.4 L1703.1,1209.5 L1702.2,1206.6 L1701.2,1203.8 L1700.3,1200.9 L1699.3,1198.1 L1698.4,1195.2 L1697.4,1192.4 L1696.4,1189.6 L1695.4,1186.7 L1694.5,1183.9 L1693.5,1181.0 L1692.5,1178.2 L1691.5,1175.4 L1690.5,1172.6 L1689.4,1169.7 L1688.3,1166.9 L1687.2,1164.1 L1686.1,1161.3 L1685.0,1158.6 L1683.9,1155.8 L1682.8,1153.0 L1681.6,1150.2 L1680.5,1147.4 L1679.3,1144.7 L1678.0,1142.0 L1676.7,1139.3 L1675.3,1136.6 L1673.9,1134.0 L1672.4,1131.3 L1670.9,1128.7 L1669.5,1126.1 L1668.0,1123.5 L1666.5,1120.9 L1665.1,1118.2 L1663.6,1115.6 L1662.1,1113.0 L1660.7,1110.4 L1659.3,1107.7 L1657.9,1105.1 L1656.5,1102.4 L1655.0,1099.8 L1653.6,1097.1 L1652.2,1094.5 L1650.8,1091.8 L1649.4,1089.1 L1648.0,1086.5 L1646.6,1083.8 L1645.2,1081.2 L1643.7,1078.5 L1642.3,1075.9 L1640.9,1073.2 L1639.5,1070.6 L1638.0,1068.0 L1636.6,1065.3 L1635.1,1062.7 L1633.6,1060.2 L1632.0,1057.6 L1630.4,1055.1 L1628.7,1052.6 L1627.0,1050.1 L1625.4,1047.6 L1623.7,1045.1 L1622.0,1042.6 L1620.3,1040.1 L1618.6,1037.6 L1616.9,1035.2 L1615.1,1032.8 L1613.3,1030.4 L1611.5,1028.0 L1609.7,1025.6 L1607.9,1023.2 L1606.1,1020.8 L1604.2,1018.4 L1602.4,1016.0 L1600.6,1013.6 L1598.7,1011.3 L1596.8,1008.9 L1594.9,1006.6 L1593.0,1004.3 L1591.1,1001.9 L1589.3,999.6 L1587.4,997.3 L1585.5,994.9 L1583.5,992.6 L1581.6,990.3 L1579.6,988.1 L1577.6,985.8 L1575.6,983.6 L1573.5,981.4 L1571.5,979.3 L1569.4,977.1 L1567.3,974.9 L1565.3,972.7 L1563.2,970.5 L1561.1,968.4 L1559.1,966.2 L1557.0,964.0 L1554.9,961.8 L1552.8,959.6 L1550.8,957.5 L1548.7,955.3 L1546.6,953.2 L1544.4,951.1 L1542.3,949.0 L1540.1,946.9 L1537.9,944.9 L1535.7,942.9 L1533.5,940.8 L1531.3,938.8 L1529.1,936.7 L1526.9,934.7 L1524.7,932.6 L1522.6,930.5 L1520.5,928.3 L1518.4,926.2 L1516.3,924.0 L1514.3,921.8 L1512.3,919.6 L1510.2,917.3 L1508.2,915.1 L1506.2,912.9 L1504.2,910.7 L1502.2,908.4 L1500.3,906.1 L1498.4,903.8 L1496.6,901.4 L1494.7,899.0 L1492.9,896.7 L1491.0,894.3 L1489.2,891.9 L1487.4,889.5 L1485.6,887.1 L1483.9,884.6 L1482.2,882.1 L1480.6,879.6 L1479.0,877.1 L1477.3,874.6 L1475.7,872.0 L1474.1,869.5 L1472.4,867.0 L1470.7,864.5 L1469.0,862.1 L1467.2,859.8 L1465.2,857.5 L1463.1,855.4 L1460.9,853.4 L1458.7,851.4 L1456.4,849.4 L1454.1,847.4 L1451.9,845.5 L1449.6,843.5 L1447.3,841.5 L1445.1,839.6 L1442.8,837.6 L1440.5,835.6 L1438.3,833.6 L1436.0,831.6 L1433.8,829.7 L1431.5,827.7 L1429.2,825.7 L1426.9,823.8 L1424.6,821.9 L1422.2,820.1 L1419.9,818.2 L1417.5,816.4 L1415.1,814.6 L1412.7,812.8 L1410.2,811.0 L1407.8,809.3 L1405.3,807.6 L1402.8,806.0 L1400.2,804.5 L1397.6,803.2 L1394.8,802.0 L1392.0,800.9 L1389.2,799.8 L1386.4,798.7 L1383.6,797.7 L1380.8,796.6 L1378.0,795.6 L1375.2,794.6 L1372.3,793.6 L1369.5,792.7 L1366.6,791.9 L1363.7,791.0 L1360.8,790.2 L1357.9,789.4 L1355.0,788.5 L1352.1,787.7 L1349.3,786.9 L1346.4,786.1 L1343.5,785.3 L1340.6,784.6 L1337.6,783.9 L1334.7,783.2 L1331.8,782.6 L1328.8,782.0 L1325.9,781.4 L1322.9,780.8 L1320.0,780.2 L1317.0,779.6 L1314.1,779.0 L1311.1,778.5 L1308.2,777.9 L1305.2,777.3 L1302.3,776.8 L1299.3,776.3 L1296.4,775.8 L1293.4,775.3 L1290.4,774.8 L1287.5,774.3 L1284.5,773.8 L1281.5,773.3 L1278.6,772.8 L1275.6,772.4 L1272.6,771.9 L1269.7,771.5 L1266.7,771.1 L1263.7,770.8 L1260.7,770.4 L1257.7,770.1 L1254.8,769.7 L1251.8,769.4 L1248.8,769.0 L1245.8,768.7 L1242.8,768.3 L1239.8,768.0 L1236.9,767.6 L1233.9,767.3 L1230.9,767.0 L1227.9,766.7 L1224.9,766.4 L1221.9,766.1 L1218.9,765.8 L1215.9,765.6 L1212.9,765.3 L1209.9,765.0 L1206.9,764.7 L1204.0,764.5 L1201.0,764.2 L1198.0,763.9 L1195.0,763.6 L1192.0,763.4 L1189.0,763.1 L1186.0,762.9 L1183.0,762.7 L1180.0,762.5 L1177.0,762.3 L1174.0,762.0 L1171.0,761.8 L1168.0,761.6 L1165.0,761.4 L1162.0,761.2 L1159.0,761.0 L1156.0,760.8 L1153.0,760.6 L1150.0,760.4 L1147.0,760.2 L1144.0,760.0 L1141.0,759.8 L1138.0,759.7 L1135.0,759.5 L1132.0,759.3 L1129.0,759.1 L1126.0,759.0 L1123.0,758.8 L1120.0,758.6 L1117.0,758.5 L1114.0,758.3 L1111.0,758.1 L1108.0,758.0 L1105.0,757.8 L1102.0,757.6 L1099.0,757.5 L1096.0,757.4 L1093.0,757.3 L1090.0,757.2 L1087.0,757.0 L1084.0,756.9 L1081.0,756.8 L1078.0,756.7 L1075.0,756.6 L1072.0,756.5 L1069.0,756.4 L1066.0,756.3 L1063.0,756.2 L1060.0,756.1 L1057.0,756.0 L1054.0,755.8 L1051.0,755.7 L1048.0,755.5 L1045.0,755.4 L1042.0,755.2 L1039.0,755.1 L1036.0,754.9 L1033.0,754.7 L1030.0,754.6 L1027.0,754.4 L1024.0,754.3 L1021.0,754.1 L1018.0,753.9 L1015.0,753.8 L1012.0,753.6 L1009.0,753.5 L1006.0,753.3 L1003.0,753.2 L1000.0,753.0" fill="none" stroke="#008080" stroke-width="8" stroke-linecap="butt" stroke-linejoin="round" stroke-dasharray="6 24"/>
<path d="M457.0,752.0 L1000.0,753.0" fill="none" stroke="#008080" stroke-width="8" stroke-linecap="butt" stroke-linejoin="round" stroke-dasharray="6 38" stroke-dashoffset="17"/>
<path d="M457.0,752.0 L1000.0,751.5" fill="none" stroke="#008080" stroke-width="8" stroke-linecap="butt" stroke-linejoin="round" stroke-dasharray="6 38"/>
<path d="M1758.6,231.5 L1758.1,234.5 L1757.5,237.4 L1757.0,240.4 L1756.5,243.3 L1755.9,246.3 L1755.4,249.2 L1754.9,252.2 L1754.3,255.1 L1753.8,258.1 L1753.3,261.0 L1752.7,264.0 L1752.2,266.9 L1751.6,269.9 L1751.0,272.8 L1750.4,275.7 L1749.8,278.7 L1749.2,281.6 L1748.6,284.6 L1748.0,287.5 L1747.4,290.4 L1746.8,293.4 L1746.2,296.3 L1745.6,299.3 L1745.1,302.2 L1744.5,305.2 L1743.9,308.1 L1743.3,311.0 L1742.7,314.0 L1742.1,316.9 L1741.5,319.9 L1740.9,322.8 L1740.4,325.7 L1739.8,328.7 L1739.2,331.6 L1738.6,334.6 L1738.0,337.5 L1737.4,340.4 L1736.7,343.4 L1736.1,346.3 L1735.4,349.2 L1734.7,352.2 L1734.0,355.1 L1733.4,358.0 L1732.7,360.9 L1732.0,363.8 L1731.3,366.7 L1730.6,369.7 L1729.9,372.6 L1729.2,375.5 L1728.5,378.4 L1727.8,381.3 L1727.1,384.3 L1726.5,387.2 L1725.8,390.1 L1725.1,393.0 L1724.4,395.9 L1723.7,398.9 L1723.0,401.8 L1722.3,404.7 L1721.6,407.6 L1721.0,410.5 L1720.3,413.5 L1719.6,416.4 L1718.9,419.3 L1718.2,422.2 L1717.5,425.1 L1716.8,428.1 L1716.1,431.0 L1715.4,433.9 L1714.7,436.8 L1713.9,439.7 L1713.1,442.6 L1712.2,445.5 L1711.3,448.3 L1710.5,451.2 L1709.6,454.1 L1708.7,456.9 L1707.9,459.8 L1707.0,462.7 L1706.1,465.5 L1705.2,468.4 L1704.3,471.3 L1703.3,474.1 L1702.3,476.9 L1701.3,479.8 L1700.3,482.6 L1699.3,485.4 L1698.3,488.2 L1697.3,491.1 L1696.2,493.9 L1695.2,496.7 L1694.2,499.5 L1693.1,502.3 L1692.1,505.1 L1690.9,507.9 L1689.8,510.7 L1688.6,513.4 L1687.4,516.2 L1686.2,518.9 L1685.0,521.7 L1683.8,524.4 L1682.5,527.1 L1681.3,529.9 L1680.1,532.6 L1678.9,535.4 L1677.6,538.1 L1676.4,540.8 L1675.2,543.6 L1673.9,546.3 L1672.7,549.0 L1671.4,551.7 L1670.2,554.5 L1668.9,557.2 L1667.6,559.9 L1666.3,562.6 L1665.0,565.3 L1663.7,568.0 L1662.3,570.7 L1660.9,573.3 L1659.6,576.0 L1658.2,578.6 L1656.8,581.3 L1655.3,583.9 L1653.9,586.6 L1652.4,589.2 L1650.9,591.8 L1649.4,594.4 L1647.9,597.0 L1646.4,599.6 L1644.9,602.1 L1643.3,604.7 L1641.8,607.3 L1640.3,609.9 L1638.7,612.4 L1637.1,615.0 L1635.5,617.5 L1633.9,620.0 L1632.2,622.5 L1630.5,625.0 L1628.9,627.5 L1627.2,630.0 L1625.5,632.4 L1623.7,634.9 L1621.9,637.3 L1620.1,639.6 L1618.2,641.9 L1616.2,644.2 L1614.2,646.4 L1612.2,648.7 L1610.2,650.9 L1608.2,653.2 L1606.2,655.4 L1604.2,657.6 L1602.1,659.7 L1599.9,661.7 L1597.6,663.7 L1595.3,665.5 L1592.9,667.3 L1590.5,669.1 L1588.1,670.9 L1585.6,672.6 L1583.2,674.3 L1580.7,676.0 L1578.2,677.6 L1575.6,679.2 L1573.0,680.6 L1570.4,682.1 L1567.7,683.5 L1565.1,684.9 L1562.4,686.3 L1559.7,687.6 L1557.1,689.0 L1554.4,690.3 L1551.7,691.7 L1549.0,692.9 L1546.2,694.2 L1543.5,695.4 L1540.7,696.6 L1538.0,697.7 L1535.2,698.9 L1532.5,700.1 L1529.7,701.3 L1526.9,702.5 L1524.2,703.6 L1521.4,704.7 L1518.6,705.8 L1515.8,706.8 L1512.9,707.8 L1510.1,708.7 L1507.2,709.6 L1504.4,710.5 L1501.5,711.4 L1498.6,712.3 L1495.8,713.1 L1492.9,714.0 L1490.0,714.9 L1487.1,715.7 L1484.3,716.5 L1481.4,717.2 L1478.4,717.9 L1475.5,718.6 L1472.6,719.2 L1469.6,719.8 L1466.7,720.4 L1463.8,721.0 L1460.8,721.6 L1457.9,722.2 L1454.9,722.7 L1452.0,723.3 L1449.0,723.7 L1446.0,724.2 L1443.1,724.6 L1440.1,724.9 L1437.1,725.3 L1434.1,725.6 L1431.2,725.9 L1428.2,726.3 L1425.2,726.6 L1422.2,726.9 L1419.2,727.3 L1416.3,727.6 L1413.3,727.9 L1410.3,728.3 L1407.3,728.6 L1404.3,728.9 L1401.3,729.1 L1398.3,729.4 L1395.4,729.7 L1392.4,729.9 L1389.4,730.2 L1386.4,730.5 L1383.4,730.7 L1380.4,731.0 L1377.4,731.2 L1374.4,731.5 L1371.4,731.7 L1368.4,731.9 L1365.5,732.2 L1362.5,732.4 L1359.5,732.6 L1356.5,732.8 L1353.5,733.0 L1350.5,733.2 L1347.5,733.4 L1344.5,733.6 L1341.5,733.8 L1338.5,734.0 L1335.5,734.2 L1332.5,734.3 L1329.5,734.5 L1326.5,734.7 L1323.5,734.8 L1320.5,734.9 L1317.5,735.1 L1314.6,735.2 L1311.6,735.3 L1308.6,735.4 L1305.6,735.5 L1302.6,735.6 L1299.6,735.7 L1296.6,735.8 L1293.6,735.9 L1290.6,736.1 L1287.6,736.2 L1284.6,736.3 L1281.6,736.4 L1278.6,736.5 L1275.6,736.6 L1272.6,736.7 L1269.6,736.8 L1266.6,736.9 L1263.6,737.0 L1260.6,737.2 L1257.6,737.3 L1254.6,737.4 L1251.6,737.5 L1248.6,737.6 L1245.6,737.7 L1242.6,737.8 L1239.6,737.9 L1236.6,738.1 L1233.6,738.2 L1230.6,738.3 L1227.6,738.5 L1224.6,738.6 L1221.6,738.8 L1218.6,738.9 L1215.6,739.1 L1212.6,739.2 L1209.6,739.3 L1206.6,739.5 L1203.6,739.6 L1200.6,739.8 L1197.6,739.9 L1194.7,740.1 L1191.7,740.3 L1188.7,740.4 L1185.7,740.6 L1182.7,740.8 L1179.7,741.0 L1176.7,741.2 L1173.7,741.3 L1170.7,741.5 L1167.7,741.7 L1164.7,741.9 L1161.7,742.1 L1158.7,742.2 L1155.7,742.4 L1152.7,742.6 L1149.7,742.9 L1146.7,743.1 L1143.8,743.3 L1140.8,743.6 L1137.8,743.8 L1134.8,744.1 L1131.8,744.3 L1128.8,744.6 L1125.8,744.8 L1122.8,745.1 L1119.8,745.3 L1116.8,745.5 L1113.9,745.8 L1110.9,746.0 L1107.9,746.1 L1104.9,746.3 L1101.9,746.5 L1098.9,746.6 L1095.9,746.8 L1092.9,746.9 L1089.9,747.1 L1086.9,747.2 L1083.9,747.4 L1080.9,747.5 L1077.9,747.7 L1074.9,747.8 L1071.9,748.0 L1068.9,748.1 L1065.9,748.3 L1062.9,748.4 L1059.9,748.5 L1056.9,748.7 L1053.9,748.8 L1050.9,749.0 L1047.9,749.1 L1044.9,749.3 L1041.9,749.4 L1039.0,749.6 L1036.0,749.7 L1033.0,749.9 L1030.0,750.0 L1027.0,750.2 L1024.0,750.3 L1021.0,750.5 L1018.0,750.6 L1015.0,750.8 L1012.0,750.9 L1009.0,751.1 L1006.0,751.2 L1003.0,751.4 L1000.0,751.5" fill="none" stroke="#008080" stroke-width="8" stroke-linecap="butt" stroke-linejoin="round" stroke-dasharray="6 28"/>
<path d="M1493.0,1326.2 L1494.0,1323.4 L1495.0,1320.6 L1495.8,1317.7 L1496.3,1314.9 L1496.6,1312.0 L1496.5,1309.0 L1496.3,1306.1 L1495.9,1303.1 L1495.4,1300.2 L1494.8,1297.2 L1494.2,1294.3 L1493.5,1291.4 L1492.8,1288.5 L1492.1,1285.5 L1491.4,1282.6 L1490.6,1279.7 L1489.9,1276.8 L1489.2,1273.9 L1488.4,1271.0 L1487.7,1268.1 L1487.0,1265.1 L1486.2,1262.2 L1485.5,1259.3 L1484.8,1256.4 L1484.1,1253.5 L1483.4,1250.5 L1482.7,1247.6 L1482.1,1244.7 L1481.5,1241.7 L1480.8,1238.8 L1480.2,1235.9 L1479.6,1232.9 L1479.1,1230.0 L1478.6,1227.0 L1478.1,1224.0 L1477.7,1221.1 L1477.3,1218.1 L1476.8,1215.1 L1476.4,1212.1 L1475.9,1209.2 L1475.3,1206.2 L1474.8,1203.3 L1474.2,1200.3 L1473.6,1197.4 L1473.0,1194.4 L1472.6,1191.5 L1472.1,1188.5 L1471.8,1185.5 L1471.5,1182.5 L1471.3,1179.5 L1471.1,1176.5 L1470.8,1173.6 L1470.5,1170.6 L1470.0,1167.6 L1469.4,1164.7 L1468.6,1161.8 L1467.8,1159.0 L1466.9,1156.1 L1466.1,1153.2 L1465.2,1150.3 L1464.4,1147.4 L1463.6,1144.5 L1462.8,1141.6 L1462.0,1138.7 L1461.3,1135.8 L1460.5,1132.9 L1459.7,1130.0 L1458.9,1127.1 L1458.2,1124.2 L1457.4,1121.3 L1456.5,1118.4 L1455.7,1115.5 L1454.8,1112.7 L1453.9,1109.8 L1453.0,1106.9 L1452.0,1104.1 L1451.1,1101.2 L1450.1,1098.4 L1449.2,1095.5 L1448.2,1092.7 L1447.3,1089.8 L1446.3,1087.0 L1445.4,1084.1 L1444.4,1081.3 L1443.5,1078.4 L1442.6,1075.6 L1441.6,1072.7 L1440.7,1069.9 L1439.7,1067.0 L1438.8,1064.1 L1437.9,1061.3 L1436.9,1058.4 L1436.0,1055.6 L1435.1,1052.7 L1434.1,1049.9 L1433.1,1047.0 L1432.1,1044.2 L1431.1,1041.4 L1430.0,1038.6 L1429.0,1035.7 L1427.9,1032.9 L1426.9,1030.1 L1425.8,1027.3 L1424.7,1024.5 L1423.6,1021.7 L1422.6,1018.9 L1421.4,1016.1 L1420.3,1013.3 L1419.1,1010.6 L1417.9,1007.8 L1416.6,1005.1 L1415.3,1002.4 L1414.1,999.7 L1412.8,997.0 L1411.5,994.2 L1410.2,991.5 L1408.9,988.8 L1407.6,986.1 L1406.3,983.4 L1404.9,980.7 L1403.6,978.0 L1402.2,975.4 L1400.8,972.7 L1399.5,970.0 L1398.1,967.3 L1396.7,964.7 L1395.3,962.0 L1393.8,959.4 L1392.3,956.8 L1390.7,954.3 L1389.1,951.7 L1387.5,949.2 L1385.9,946.7 L1384.2,944.1 L1382.6,941.6 L1381.0,939.1 L1379.3,936.6 L1377.7,934.1 L1376.0,931.5 L1374.4,929.0 L1372.7,926.5 L1371.1,924.0 L1369.4,921.5 L1367.7,919.0 L1366.0,916.6 L1364.3,914.1 L1362.7,911.6 L1361.0,909.1 L1359.2,906.6 L1357.5,904.2 L1355.6,901.8 L1353.8,899.5 L1351.9,897.1 L1350.1,894.8 L1348.2,892.4 L1346.2,890.1 L1344.3,887.8 L1342.3,885.6 L1340.3,883.4 L1338.2,881.2 L1336.1,879.1 L1334.0,876.9 L1331.9,874.7 L1329.9,872.5 L1327.9,870.3 L1325.8,868.1 L1323.8,865.9 L1321.7,863.8 L1319.5,861.7 L1317.3,859.7 L1315.0,857.7 L1312.7,855.8 L1310.4,853.9 L1308.0,852.0 L1305.7,850.2 L1303.3,848.4 L1300.9,846.6 L1298.4,844.8 L1296.0,843.0 L1293.6,841.3 L1291.1,839.6 L1288.7,837.8 L1286.2,836.1 L1283.8,834.3 L1281.3,832.6 L1278.8,830.9 L1276.4,829.1 L1273.9,827.5 L1271.4,825.8 L1268.8,824.3 L1266.2,822.8 L1263.6,821.3 L1261.0,819.9 L1258.3,818.4 L1255.7,817.0 L1253.0,815.6 L1250.4,814.1 L1247.7,812.7 L1245.1,811.3 L1242.5,809.8 L1239.8,808.4 L1237.2,807.0 L1234.6,805.5 L1231.9,804.0 L1229.3,802.6 L1226.7,801.1 L1224.0,799.7 L1221.4,798.3 L1218.7,796.9 L1216.1,795.5 L1213.3,794.2 L1210.6,793.0 L1207.8,791.9 L1205.0,790.8 L1202.2,789.7 L1199.4,788.6 L1196.6,787.6 L1193.8,786.5 L1191.0,785.4 L1188.2,784.4 L1185.4,783.3 L1182.5,782.3 L1179.7,781.3 L1176.9,780.3 L1174.0,779.3 L1171.2,778.3 L1168.4,777.3 L1165.5,776.3 L1162.7,775.4 L1159.8,774.4 L1157.0,773.4 L1154.1,772.5 L1151.2,771.7 L1148.3,770.9 L1145.4,770.2 L1142.5,769.5 L1139.6,768.9 L1136.6,768.3 L1133.7,767.7 L1130.8,767.0 L1127.8,766.3 L1124.9,765.5 L1122.0,764.7 L1119.1,763.9 L1116.2,763.1 L1113.4,762.3 L1110.5,761.5 L1107.6,760.7 L1104.7,760.0 L1101.7,759.3 L1098.8,758.7 L1095.9,758.2 L1092.9,757.8 L1089.9,757.6 L1086.9,757.3 L1083.9,757.1 L1080.9,756.9 L1077.9,756.8 L1074.9,756.6 L1071.9,756.4 L1068.9,756.2 L1065.9,756.0 L1062.9,755.8 L1059.9,755.6 L1056.9,755.5 L1053.9,755.3 L1050.9,755.1 L1047.9,754.9 L1044.9,754.7 L1041.9,754.5 L1038.9,754.3 L1035.9,754.2 L1032.9,753.9 L1029.9,753.7 L1026.9,753.5 L1023.9,753.2 L1020.9,753.0 L1018.0,752.7 L1015.0,752.4 L1012.0,752.1 L1009.0,751.8 L1006.0,751.6 L1003.0,751.3 L1000.0,751.0" fill="none" stroke="#FEC10F" stroke-width="8" stroke-linecap="butt" stroke-linejoin="round" stroke-dasharray="27 17 4 17"/>
<path d="M485.0,748.0 C564.2,748.4 874.2,750.0 960.0,750.5 C1045.8,751.0 993.3,750.9 1000.0,751.0" fill="none" stroke="#FEC10F" stroke-width="8" stroke-linecap="butt" stroke-linejoin="round" stroke-dasharray="39 24 6 24" stroke-dashoffset="27"/>
<path d="M485.0,748.0 C564.2,747.7 874.2,746.7 960.0,746.0 C1045.8,745.3 993.3,744.3 1000.0,744.0" fill="none" stroke="#FEC10F" stroke-width="8" stroke-linecap="butt" stroke-linejoin="round" stroke-dasharray="39 24 6 24" stroke-dashoffset="10"/>
<path d="M1547.4,213.7 L1546.5,216.6 L1545.5,219.4 L1544.6,222.3 L1543.7,225.1 L1542.7,228.0 L1541.8,230.8 L1540.9,233.7 L1539.9,236.6 L1539.0,239.4 L1538.1,242.3 L1537.1,245.1 L1536.2,248.0 L1535.2,250.8 L1534.3,253.7 L1533.4,256.6 L1532.4,259.4 L1531.5,262.3 L1530.5,265.1 L1529.5,267.9 L1528.5,270.8 L1527.5,273.6 L1526.5,276.5 L1525.5,279.3 L1524.6,282.1 L1523.6,285.0 L1522.8,287.9 L1522.0,290.7 L1521.3,293.7 L1520.8,296.6 L1520.2,299.6 L1519.7,302.5 L1519.0,305.4 L1518.2,308.3 L1517.3,311.1 L1516.3,313.9 L1515.1,316.7 L1514.0,319.5 L1513.0,322.3 L1512.0,325.1 L1511.2,328.0 L1510.6,330.9 L1510.0,333.8 L1509.5,336.8 L1508.9,339.7 L1508.4,342.7 L1507.7,345.6 L1507.0,348.5 L1506.2,351.4 L1505.2,354.2 L1504.2,357.1 L1503.2,359.9 L1502.1,362.7 L1501.1,365.5 L1500.1,368.4 L1499.1,371.2 L1498.1,374.0 L1497.2,376.9 L1496.2,379.7 L1495.3,382.6 L1494.4,385.5 L1493.5,388.3 L1492.6,391.2 L1491.7,394.1 L1490.7,396.9 L1489.8,399.8 L1488.9,402.6 L1487.9,405.5 L1487.1,408.4 L1486.2,411.2 L1485.4,414.1 L1484.6,417.0 L1483.8,419.9 L1483.1,422.9 L1482.4,425.8 L1481.6,428.7 L1480.9,431.6 L1480.1,434.5 L1479.2,437.3 L1478.1,440.1 L1476.9,442.8 L1475.6,445.5 L1474.1,448.1 L1472.7,450.7 L1471.2,453.4 L1469.9,456.0 L1468.6,458.7 L1467.5,461.5 L1466.6,464.3 L1465.7,467.2 L1464.9,470.1 L1464.0,472.9 L1463.0,475.7 L1461.8,478.5 L1460.5,481.2 L1459.1,483.8 L1457.7,486.4 L1456.2,489.0 L1454.6,491.6 L1453.1,494.2 L1451.6,496.8 L1450.1,499.4 L1448.7,502.1 L1447.3,504.7 L1445.9,507.4 L1444.5,510.0 L1443.1,512.7 L1441.8,515.4 L1440.4,518.1 L1439.1,520.8 L1437.8,523.5 L1436.4,526.2 L1435.1,528.9 L1433.8,531.6 L1432.4,534.2 L1431.0,536.9 L1429.6,539.5 L1428.1,542.1 L1426.5,544.7 L1425.0,547.3 L1423.4,549.8 L1421.8,552.4 L1420.2,554.9 L1418.6,557.5 L1417.0,560.1 L1415.5,562.6 L1413.9,565.2 L1412.4,567.8 L1410.8,570.4 L1409.3,572.9 L1407.7,575.5 L1406.1,578.0 L1404.5,580.6 L1402.8,583.1 L1401.1,585.5 L1399.4,588.0 L1397.6,590.4 L1395.9,592.9 L1394.1,595.3 L1392.2,597.6 L1390.4,600.0 L1388.5,602.4 L1386.6,604.7 L1384.8,607.1 L1382.9,609.4 L1381.0,611.7 L1379.0,614.0 L1377.0,616.3 L1375.0,618.5 L1373.0,620.7 L1370.9,622.9 L1368.8,625.1 L1366.8,627.2 L1364.7,629.4 L1362.6,631.6 L1360.5,633.8 L1358.5,635.9 L1356.4,638.1 L1354.3,640.3 L1352.1,642.4 L1350.0,644.5 L1347.8,646.5 L1345.5,648.5 L1343.3,650.5 L1341.0,652.4 L1338.7,654.3 L1336.4,656.3 L1334.1,658.2 L1331.8,660.1 L1329.5,662.1 L1327.1,664.0 L1324.8,665.9 L1322.5,667.8 L1320.1,669.7 L1317.8,671.5 L1315.3,673.3 L1312.9,675.0 L1310.4,676.7 L1307.9,678.4 L1305.4,680.0 L1302.9,681.7 L1300.4,683.3 L1297.9,685.0 L1295.3,686.6 L1292.8,688.2 L1290.2,689.7 L1287.6,691.1 L1284.9,692.5 L1282.2,693.8 L1279.4,695.0 L1276.7,696.3 L1274.0,697.5 L1271.2,698.7 L1268.5,699.9 L1265.7,701.1 L1263.0,702.3 L1260.2,703.4 L1257.4,704.5 L1254.6,705.6 L1251.7,706.6 L1248.9,707.6 L1246.1,708.7 L1243.3,709.7 L1240.4,710.7 L1237.6,711.7 L1234.7,712.7 L1231.9,713.6 L1229.0,714.5 L1226.1,715.3 L1223.2,716.1 L1220.3,716.8 L1217.4,717.6 L1214.5,718.3 L1211.6,719.0 L1208.7,719.7 L1205.7,720.5 L1202.8,721.2 L1199.9,721.9 L1197.0,722.6 L1194.1,723.3 L1191.1,724.0 L1188.2,724.6 L1185.2,725.2 L1182.3,725.7 L1179.3,726.3 L1176.4,726.8 L1173.4,727.3 L1170.4,727.8 L1167.5,728.2 L1164.5,728.6 L1161.5,729.1 L1158.5,729.5 L1155.6,729.9 L1152.6,730.3 L1149.6,730.8 L1146.6,731.2 L1143.7,731.6 L1140.7,732.0 L1137.7,732.5 L1134.7,732.9 L1131.7,733.3 L1128.8,733.7 L1125.8,734.2 L1122.8,734.6 L1119.8,735.0 L1116.9,735.4 L1113.9,735.9 L1110.9,736.3 L1107.9,736.7 L1105.0,737.1 L1102.0,737.5 L1099.0,737.9 L1096.0,738.3 L1093.0,738.6 L1090.0,738.9 L1087.0,739.1 L1084.0,739.3 L1081.0,739.5 L1078.0,739.7 L1075.0,739.8 L1072.0,740.0 L1069.0,740.1 L1066.0,740.3 L1063.0,740.5 L1060.0,740.6 L1057.0,740.8 L1054.0,740.9 L1051.0,741.1 L1048.0,741.2 L1045.0,741.4 L1042.0,741.6 L1039.0,741.7 L1036.0,741.9 L1033.0,742.1 L1030.0,742.3 L1027.0,742.4 L1024.0,742.6 L1021.0,742.8 L1018.0,743.0 L1015.0,743.1 L1012.0,743.3 L1009.0,743.5 L1006.0,743.7 L1003.0,743.8 L1000.0,744.0" fill="none" stroke="#FEC10F" stroke-width="8" stroke-linecap="butt" stroke-linejoin="round" stroke-dasharray="28 18 5 18"/>
</g>
<g fill="#000" shape-rendering="crispEdges">
<rect x="241" y="34" width="8" height="1522"/>
<rect x="2128" y="34" width="8" height="1522"/>
<rect x="230" y="34" width="1906" height="8"/>
<rect x="230" y="1537" width="1906" height="8"/>
<rect x="215" y="1444.25" width="26" height="7.5"/>
<rect x="215" y="1256.18" width="26" height="7.5"/>
<rect x="215" y="1068.11" width="26" height="7.5"/>
<rect x="215" y="880.04" width="26" height="7.5"/>
<rect x="215" y="691.97" width="26" height="7.5"/>
<rect x="215" y="503.90" width="26" height="7.5"/>
<rect x="215" y="315.83" width="26" height="7.5"/>
<rect x="215" y="127.76" width="26" height="7.5"/>
<rect x="230" y="1350.21" width="11" height="7.5"/>
<rect x="230" y="1162.14" width="11" height="7.5"/>
<rect x="230" y="974.08" width="11" height="7.5"/>
<rect x="230" y="786.00" width="11" height="7.5"/>
<rect x="230" y="597.94" width="11" height="7.5"/>
<rect x="230" y="409.87" width="11" height="7.5"/>
<rect x="230" y="221.80" width="11" height="7.5"/>
<rect x="230" y="33.73" width="11" height="7.5"/>
<rect x="359.0" y="1545" width="8" height="26"/>
<rect x="594.9" y="1545" width="8" height="26"/>
<rect x="830.7" y="1545" width="8" height="26"/>
<rect x="1066.6" y="1545" width="8" height="26"/>
<rect x="1302.4" y="1545" width="8" height="26"/>
<rect x="1538.3" y="1545" width="8" height="26"/>
<rect x="1774.1" y="1545" width="8" height="26"/>
<rect x="2010.0" y="1545" width="8" height="26"/>
<rect x="476.9" y="1545" width="8" height="11"/>
<rect x="712.8" y="1545" width="8" height="11"/>
<rect x="948.6" y="1545" width="8" height="11"/>
<rect x="1184.5" y="1545" width="8" height="11"/>
<rect x="1420.4" y="1545" width="8" height="11"/>
<rect x="1656.2" y="1545" width="8" height="11"/>
<rect x="1892.1" y="1545" width="8" height="11"/>
</g>
<g font-size="67" fill="#000">
<text transform="translate(194,1467.5) scale(1,1.04)" text-anchor="end">−4</text>
<text transform="translate(194,1279.4) scale(1,1.04)" text-anchor="end">−3</text>
<text transform="translate(194,1091.4) scale(1,1.04)" text-anchor="end">−2</text>
<text transform="translate(194,903.3) scale(1,1.04)" text-anchor="end">−1</text>
<text transform="translate(194,715.2) scale(1,1.04)" text-anchor="end">0</text>
<text transform="translate(194,527.2) scale(1,1.04)" text-anchor="end">1</text>
<text transform="translate(194,339.1) scale(1,1.04)" text-anchor="end">2</text>
<text transform="translate(194,151.0) scale(1,1.04)" text-anchor="end">3</text>
<text transform="translate(363.0,1641.2) scale(1,1.04)" text-anchor="middle">−5</text>
<text transform="translate(598.9,1641.2) scale(1,1.04)" text-anchor="middle">−4</text>
<text transform="translate(834.7,1641.2) scale(1,1.04)" text-anchor="middle">−3</text>
<text transform="translate(1070.6,1641.2) scale(1,1.04)" text-anchor="middle">−2</text>
<text transform="translate(1306.4,1641.2) scale(1,1.04)" text-anchor="middle">−1</text>
<text transform="translate(1542.3,1641.2) scale(1,1.04)" text-anchor="middle">0</text>
<text transform="translate(1778.1,1641.2) scale(1,1.04)" text-anchor="middle">1</text>
<text transform="translate(2014.0,1641.2) scale(1,1.04)" text-anchor="middle">2</text>
</g>
<text x="636.4" y="1768.5" font-size="78">leakage current density (logJ A/m<tspan font-size="52" dy="-31">2</tspan><tspan dy="31">)</tspan></text>
<text transform="translate(95,1172.5) rotate(-90)" x="0" y="0" font-size="77.6">polarization potential(V)</text>
<rect x="335.5" y="78.5" width="859" height="397" fill="none" stroke="#000" stroke-width="3"/>
<line x1="344" y1="134" x2="490" y2="134" stroke="#000" stroke-width="8"/>
<line x1="344" y1="231" x2="490" y2="231" stroke="#FF0000" stroke-width="8" stroke-dasharray="32 41"/>
<line x1="344" y1="328" x2="490" y2="328" stroke="#008080" stroke-width="8" stroke-dasharray="6 38"/>
<line x1="344" y1="425" x2="490" y2="425" stroke="#FEC10F" stroke-width="8" stroke-dasharray="39 23 6 24"/>
<text transform="translate(525.5,160) scale(1,1.03)" x="0" y="0" font-size="71.6">X80-10 Ω·m pH=8</text>
<text transform="translate(525.5,257) scale(1,1.03)" x="0" y="0" font-size="71.6">X80-30 Ω·m pH=8</text>
<text transform="translate(525.5,354) scale(1,1.03)" x="0" y="0" font-size="71.6">X80-100 Ω·m pH=8</text>
<text transform="translate(525.5,451) scale(1,1.03)" x="0" y="0" font-size="71.6">X80-1300 Ω·m pH=8</text>
</svg>
</body></html>
